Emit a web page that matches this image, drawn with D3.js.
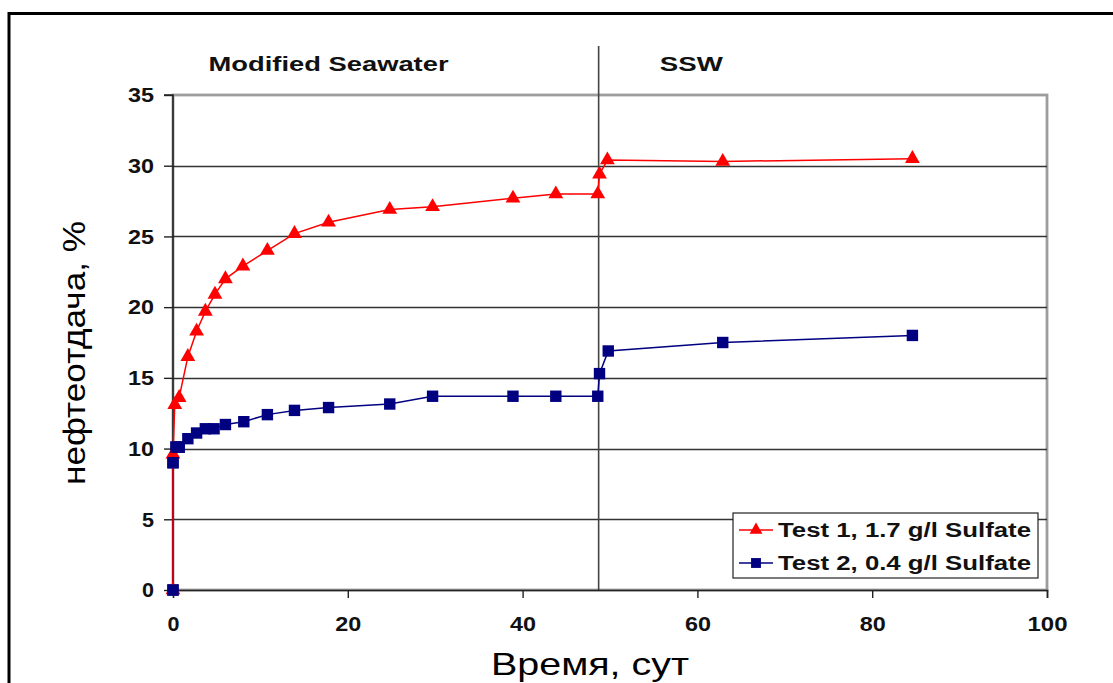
<!DOCTYPE html>
<html>
<head>
<meta charset="utf-8">
<script src="https://cdn.jsdelivr.net/npm/d3@7"></script>
<style>
  html, body { margin: 0; padding: 0; background: #fff; }
  svg { display: block; }
</style>
</head>
<body>
<svg id="chart" width="1113" height="683"></svg>
<script>
// Test 1: 1.7 g/l sulfate (days, recovery %)
const test1Days = [0, 0, 0.2, 0.7, 1.7, 2.7, 3.7, 4.8, 6.0, 8.0, 10.8, 13.9, 17.8, 24.8, 29.7, 38.9, 43.8, 48.6, 48.8, 49.7, 62.9, 84.6];
const test1Vals = [0, 9.6, 13.1, 13.6, 16.5, 18.3, 19.7, 20.9, 22.0, 22.9, 24.0, 25.2, 26.0, 26.9, 27.1, 27.7, 28.0, 28.0, 29.4, 30.4, 30.3, 30.5];

// Test 2: 0.4 g/l sulfate
const test2Days = [0, 0, 0.35, 0.7, 1.7, 2.7, 3.7, 4.7, 6.0, 8.1, 10.8, 13.9, 17.8, 24.8, 29.7, 38.9, 43.8, 48.6, 48.8, 49.8, 62.9, 84.6];
const test2Vals = [0, 9.0, 10.1, 10.1, 10.7, 11.1, 11.4, 11.4, 11.7, 11.9, 12.4, 12.7, 12.9, 13.15, 13.7, 13.7, 13.7, 13.7, 15.3, 16.9, 17.5, 18.0];

const seriesNames = ["Test 1, 1.7 g/l Sulfate", "Test 2, 0.4 g/l Sulfate"];
const xTicks = [0, 20, 40, 60, 80, 100];
const yTicks = [0, 5, 10, 15, 20, 25, 30, 35];
const switchDay = 48.7;               // change from modified seawater to SSW
const stageLabels = ["Modified Seawater", "SSW"];
const stageLabelDays = [17.8, 59.3];

const svg = d3.select("#chart");
const W = 1113, H = 683;
const plot = { left: 173, right: 1047, top: 95, bottom: 590 };
const FONT = "Liberation Sans, Arial, sans-serif";

const x = d3.scaleLinear().domain([0, 100]).range([plot.left, plot.right]);
const y = d3.scaleLinear().domain([0, 35]).range([plot.bottom, plot.top]);

// outer frame (top and left edges)
svg.append("line").attr("x1", 8).attr("x2", W).attr("y1", 13.5).attr("y2", 13.5)
  .attr("stroke", "#000").attr("stroke-width", 3);
svg.append("line").attr("x1", 9).attr("x2", 9).attr("y1", 12).attr("y2", H)
  .attr("stroke", "#000").attr("stroke-width", 3);

// plot area border with soft gray edge
svg.append("rect")
  .attr("x", plot.left).attr("y", plot.top)
  .attr("width", plot.right - plot.left).attr("height", plot.bottom - plot.top)
  .attr("fill", "#fff").attr("stroke", "#b0b0b0").attr("stroke-width", 3);
svg.append("rect")
  .attr("x", plot.left).attr("y", plot.top)
  .attr("width", plot.right - plot.left).attr("height", plot.bottom - plot.top)
  .attr("fill", "none").attr("stroke", "#8a8a8a").attr("stroke-width", 1);

// horizontal gridlines
svg.append("g").selectAll("line")
  .data(yTicks.filter(t => t > 0 && t < 35))
  .join("line")
  .attr("x1", plot.left).attr("x2", plot.right)
  .attr("y1", d => Math.round(y(d)) + 0.5).attr("y2", d => Math.round(y(d)) + 0.5)
  .attr("stroke", "#333").attr("stroke-width", 1.5);

// stage boundary line
svg.append("line")
  .attr("x1", x(switchDay)).attr("x2", x(switchDay))
  .attr("y1", 46).attr("y2", plot.bottom)
  .attr("stroke", "#444").attr("stroke-width", 1.6);

// axes
const yAxis = d3.axisLeft(y).tickValues(yTicks).tickSize(9).tickPadding(10).tickFormat(d3.format("d"));
const xAxis = d3.axisBottom(x).tickValues(xTicks).tickSize(8).tickPadding(18).tickFormat(d3.format("d"));

const gy = svg.append("g").attr("transform", `translate(${plot.left},0)`).call(yAxis);
const gx = svg.append("g").attr("transform", `translate(0,${plot.bottom})`).call(xAxis);
[gx, gy].forEach(g => {
  g.select(".domain").attr("stroke", "#222").attr("stroke-width", 1.6);
  g.selectAll(".tick line").attr("stroke", "#222").attr("stroke-width", 1.4);
  g.selectAll(".tick text")
    .attr("font-family", FONT)
    .attr("font-size", 21).attr("font-weight", "bold").attr("fill", "#111")
    .attr("textLength", function () { return this.textContent.length * 14 - 2; })
    .attr("lengthAdjust", "spacingAndGlyphs");
});
gx.select(".tick line").remove(); // no tick at the origin on the x axis
gy.select(".domain").attr("d", `M-9,${plot.top}H0V${plot.bottom}`);

// stage labels
const stageWidths = [240, 63];
svg.append("g").selectAll("text")
  .data(stageLabels)
  .join("text")
  .attr("x", (d, i) => x(stageLabelDays[i]))
  .attr("y", 71)
  .attr("text-anchor", "middle")
  .attr("font-family", FONT)
  .attr("font-size", 21).attr("font-weight", "bold").attr("fill", "#111")
  .attr("textLength", (d, i) => stageWidths[i]).attr("lengthAdjust", "spacingAndGlyphs")
  .text(d => d);

// axis titles
svg.append("text")
  .attr("transform", "translate(85,353) rotate(-90)")
  .attr("text-anchor", "middle")
  .attr("font-family", FONT)
  .attr("font-size", 32).attr("fill", "#000")
  .attr("textLength", 264).attr("lengthAdjust", "spacingAndGlyphs")
  .text("нефтеотдача,  %");
svg.append("text")
  .attr("x", 590).attr("y", 675)
  .attr("text-anchor", "middle")
  .attr("font-family", FONT)
  .attr("font-size", 32).attr("fill", "#000")
  .attr("textLength", 198).attr("lengthAdjust", "spacingAndGlyphs")
  .text("Время,  сут");

// series
const series = [
  { name: seriesNames[0], days: test1Days, vals: test1Vals, color: "#ff0000", shape: d3.symbolTriangle, size: 95 },
  { name: seriesNames[1], days: test2Days, vals: test2Vals, color: "#000080", shape: d3.symbolSquare, size: 130 }
];

const line = d3.line().x(d => x(d[0])).y(d => y(d[1]));

// draw blue first so red sits on top where they meet
[series[1], series[0]].forEach(s => {
  const pts = s.days.map((d, i) => [d, s.vals[i]]);
  svg.append("path")
    .attr("d", line(pts))
    .attr("fill", "none").attr("stroke", s.color).attr("stroke-width", 1.5);
  svg.append("g").selectAll("path")
    .data(pts)
    .join("path")
    .attr("transform", d => `translate(${x(d[0])},${y(d[1])})`)
    .attr("d", d3.symbol().type(s.shape).size(s.size))
    .attr("fill", s.color);
});

// blue markers at the origin and start drawn above the red line
{
  const s = series[1];
  const pts = s.days.slice(0, 4).map((d, i) => [d, s.vals[i]]);
  svg.append("g").selectAll("path")
    .data(pts)
    .join("path")
    .attr("transform", d => `translate(${x(d[0])},${y(d[1])})`)
    .attr("d", d3.symbol().type(s.shape).size(s.size))
    .attr("fill", s.color);
}

// legend
const lg = svg.append("g").attr("transform", "translate(733,513)");
lg.append("rect").attr("width", 305).attr("height", 65)
  .attr("fill", "#fff").attr("stroke", "#222").attr("stroke-width", 1.2);
series.forEach((s, i) => {
  const row = lg.append("g").attr("transform", `translate(0,${17 + i * 33})`);
  row.append("line").attr("x1", 6).attr("x2", 40).attr("y1", 0).attr("y2", 0)
    .attr("stroke", s.color).attr("stroke-width", 1.5);
  row.append("path").attr("transform", "translate(23,0)")
    .attr("d", d3.symbol().type(s.shape).size(s.size * 0.75)).attr("fill", s.color);
  row.append("text").attr("x", 45).attr("y", 7)
    .attr("font-family", FONT)
    .attr("font-size", 20).attr("font-weight", "bold").attr("fill", "#111")
    .attr("textLength", 253).attr("lengthAdjust", "spacingAndGlyphs")
    .text(s.name);
});
</script>
</body>
</html>
